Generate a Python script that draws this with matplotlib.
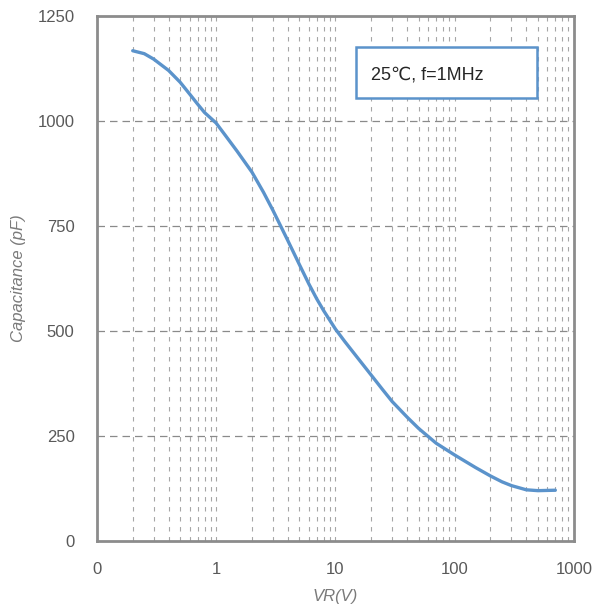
import numpy as np
import matplotlib
matplotlib.use('Agg')
import matplotlib.pyplot as plt
from matplotlib.patches import Rectangle
from matplotlib.ticker import FixedLocator, FixedFormatter

plt.rcParams['font.family'] = ['Liberation Sans', 'DejaVu Sans']

# reverse voltage [V] and junction capacitance [pF]
vr = [0.2, 0.25, 0.3, 0.4, 0.5, 0.6, 0.7, 0.8, 1, 1.2, 1.5, 2, 2.5, 3,
      4, 5, 6, 7, 8, 10, 12, 15, 20, 25, 30, 40, 50, 70, 100, 150, 200,
      250, 300, 400, 500, 700]
cap = [1167, 1160, 1147, 1120, 1092, 1064, 1040, 1020, 995, 965, 928,
       878, 830, 787, 715, 658, 612, 576, 548, 505, 475, 440, 395, 360,
       332, 295, 268, 233, 205, 175, 155, 141, 132, 122, 120, 121]

xticks = [0.1, 1, 10, 100, 1000]
xticklabels = ['0', '1', '10', '100', '1000']
yticks = [0, 250, 500, 750, 1000, 1250]
note = '25\u2103, f=1MHz'

fig = plt.figure(figsize=(5.94, 6.10), dpi=100)
ax = fig.add_axes([0.163, 0.113, 0.803, 0.861])

grey = '#8c8c8c'
# vertical dashed grid at every 1..9 step of each decade
vgrid = [m * 10.0**e for e in range(-1, 3) for m in range(2, 10)]
vgrid += [1, 10, 100]
for v in vgrid:
    ax.axvline(v, color='#a6a6a6', lw=0.8, ls=(0, (4, 5)), zorder=1)
for h in yticks[1:-1]:
    ax.axhline(h, color='#8a8a8a', lw=0.9, ls=(0, (6, 4)), zorder=1)

ax.plot(vr, cap, color='#5b93cb', lw=2.4, zorder=3,
        solid_capstyle='round', solid_joinstyle='round')

ax.set_xscale('log')
ax.set_xlim(0.1, 1000)
ax.set_ylim(0, 1250)
ax.xaxis.set_major_locator(FixedLocator(xticks))
ax.xaxis.set_major_formatter(FixedFormatter(xticklabels))
ax.xaxis.set_minor_locator(FixedLocator([]))
ax.set_yticks(yticks)
ax.tick_params(length=0, labelsize=12, labelcolor='#595959')
ax.tick_params(axis='x', pad=15)
ax.tick_params(axis='y', pad=16)

for s in ax.spines.values():
    s.set_color(grey)
    s.set_linewidth(2)

ax.set_xlabel('VR(V)', fontsize=12, style='italic', color='#7a7a7a',
              labelpad=9)
ax.set_ylabel('Capacitance (pF)', fontsize=12, style='italic',
              color='#7a7a7a', labelpad=8)

# condition box
ax.add_patch(Rectangle((0.543, 0.844), 0.379, 0.097, transform=ax.transAxes,
                       facecolor='white', edgecolor='#5b93cb', lw=1.8,
                       zorder=4))
ax.text(0.574, 0.887, note, transform=ax.transAxes, fontsize=13,
        color='#262626', va='center', ha='left', zorder=5)

fig.savefig('out.png', dpi=100)
